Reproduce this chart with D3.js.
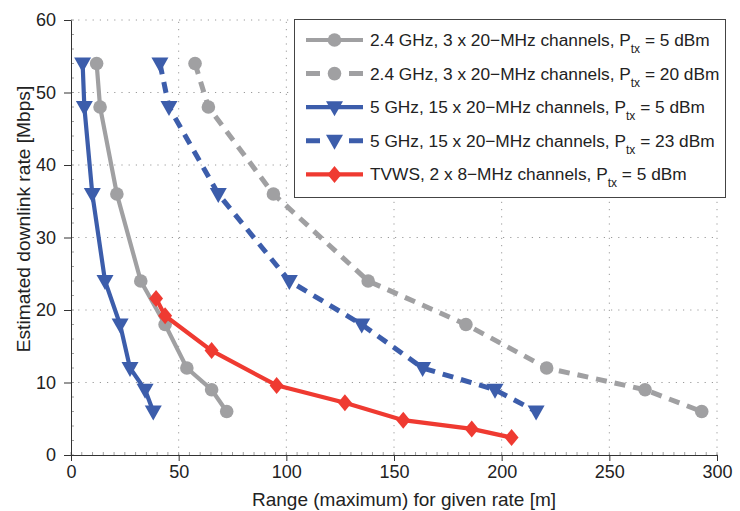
<!DOCTYPE html>
<html>
<head>
<meta charset="utf-8">
<script src="https://cdn.jsdelivr.net/npm/d3@7"></script>
<style>
  body { margin: 0; background: #fff; }
  text { font-family: "Liberation Sans", Arial, sans-serif; fill: #222; }
</style>
</head>
<body>
<script>
// rates (Mbps) shared by the WiFi curves
var rates = [54, 48, 36, 24, 18, 12, 9, 6];
// range in metres for each rate
var range24low = [11.9, 13.5, 21.3, 32.4, 43.7, 53.8, 65.3, 72.3];
var range24high = [57.6, 63.8, 94, 138, 183.4, 220.9, 266.6, 292.9];
var range5low = [5.4, 6.2, 9.9, 15.8, 22.8, 27.4, 34.4, 38.2];
var range5high = [41.3, 45.5, 68.4, 101.4, 135, 163.3, 196.9, 216];
// TVWS has its own rates
var ratesTv = [21.6, 19.2, 14.4, 9.6, 7.2, 4.8, 3.6, 2.4];
var rangeTv = [39.5, 43.7, 65.3, 95.5, 127.2, 154.3, 186.1, 204.6];

var xTicks = [0, 50, 100, 150, 200, 250, 300];
var yTicks = [0, 10, 20, 30, 40, 50, 60];

var gray = "#a0a0a2", blue = "#3c5dab", red = "#ef3a31";

var series = [
  { label: "2.4 GHz, 3 x 20\u2212MHz channels, P", pw: "5", x: range24low, y: rates, color: gray, dash: null, sym: "circle" },
  { label: "2.4 GHz, 3 x 20\u2212MHz channels, P", pw: "20", x: range24high, y: rates, color: gray, dash: "11,8", sym: "circle" },
  { label: "5 GHz, 15 x 20\u2212MHz channels, P", pw: "5", x: range5low, y: rates, color: blue, dash: null, sym: "tri" },
  { label: "5 GHz, 15 x 20\u2212MHz channels, P", pw: "23", x: range5high, y: rates, color: blue, dash: "11,8", sym: "tri" },
  { label: "TVWS, 2 x 8\u2212MHz channels, P", pw: "5", x: rangeTv, y: ratesTv, color: red, dash: null, sym: "diamond" }
];

var width = 740, height = 511;
var mLeft = 71, mRight = 717, mTop = 20, mBottom = 455;

var svg = d3.select("body").append("svg").attr("width", width).attr("height", height);

var x = d3.scaleLinear().domain([0, 300]).range([mLeft, mRight]);
var y = d3.scaleLinear().domain([0, 60]).range([mBottom, mTop]);

// grid
var grid = svg.append("g").attr("stroke", "#9a9a9a").attr("stroke-width", 1).attr("stroke-dasharray", "1.2,6");
xTicks.slice(1).forEach(function(t) {
  grid.append("line").attr("x1", x(t)).attr("x2", x(t)).attr("y1", mBottom).attr("y2", mTop);
});
yTicks.slice(1).forEach(function(t) {
  grid.append("line").attr("x1", mLeft).attr("x2", mRight).attr("y1", y(t)).attr("y2", y(t));
});

// minor ticks (inside)
var minor = svg.append("g").attr("stroke", "#888").attr("stroke-width", 0.8);
d3.range(0, 301, 5).forEach(function(t) {
  minor.append("line").attr("x1", x(t)).attr("x2", x(t)).attr("y1", mBottom).attr("y2", mBottom - 3);
});
d3.range(0, 61, 2).forEach(function(t) {
  minor.append("line").attr("x1", mLeft).attr("x2", mLeft + 3).attr("y1", y(t)).attr("y2", y(t));
});

// axes
var xAxis = svg.append("g").attr("transform", "translate(0," + mBottom + ")")
  .call(d3.axisBottom(x).tickValues(xTicks).tickSize(6).tickPadding(4).tickSizeOuter(0));
var yAxis = svg.append("g").attr("transform", "translate(" + mLeft + ",0)")
  .call(d3.axisLeft(y).tickValues(yTicks).tickSize(7).tickPadding(8).tickSizeOuter(0));
[xAxis, yAxis].forEach(function(a) {
  a.select(".domain").attr("stroke", "#333");
  a.selectAll(".tick line").attr("stroke", "#333");
  a.selectAll(".tick text").style("font-size", "18px").style("font-family", "Liberation Sans, Arial, sans-serif").attr("fill", "#222");
});

svg.append("text").attr("x", 404).attr("y", 506).attr("text-anchor", "middle")
  .style("font-size", "19px").text("Range (maximum) for given rate [m]");
svg.append("text").attr("transform", "translate(30,219) rotate(-90)").attr("text-anchor", "middle")
  .style("font-size", "19.2px").text("Estimated downlink rate [Mbps]");

function marker(g, s, cx, cy) {
  if (s.sym === "circle") {
    g.append("circle").attr("cx", cx).attr("cy", cy).attr("r", 6.8).attr("fill", s.color);
  } else if (s.sym === "tri") {
    g.append("path").attr("d", "M-8.5,-6 L8.5,-6 L0,9 Z")
      .attr("transform", "translate(" + cx + "," + cy + ")").attr("fill", s.color);
  } else {
    g.append("path").attr("d", "M0,-8.5 L7,0 L0,8.5 L-7,0 Z")
      .attr("transform", "translate(" + cx + "," + cy + ")").attr("fill", s.color);
  }
}

var line = d3.line().x(function(d) { return x(d[0]); }).y(function(d) { return y(d[1]); });

series.forEach(function(s) {
  var pts = d3.zip(s.x, s.y);
  var g = svg.append("g");
  g.append("path").attr("d", line(pts)).attr("fill", "none").attr("stroke", s.color)
    .attr("stroke-width", s.dash ? 5 : 4.2).attr("stroke-dasharray", s.dash);
  pts.forEach(function(p) { marker(g, s, x(p[0]), y(p[1])); });
});

// legend
var lg = svg.append("g");
lg.append("rect").attr("x", 294.5).attr("y", 19.5).attr("width", 431).attr("height", 178)
  .attr("fill", "#fff").attr("stroke", "#444").attr("stroke-width", 1);
series.forEach(function(s, i) {
  var cy = 40 + i * 33.6;
  lg.append("line").attr("x1", 306).attr("x2", 363).attr("y1", cy).attr("y2", cy)
    .attr("stroke", s.color).attr("stroke-width", s.dash ? 5 : 4.2)
    .attr("stroke-dasharray", s.dash ? "14,29" : null);
  marker(lg, s, 334.5, cy);
  var t = lg.append("text").attr("x", 370).attr("y", cy + 6).style("font-size", "17.3px");
  t.append("tspan").text(s.label);
  t.append("tspan").attr("dy", 7).style("font-size", "12px").text("tx");
  t.append("tspan").attr("dy", -7).text(" = " + s.pw + " dBm");
});
</script>
</body>
</html>
